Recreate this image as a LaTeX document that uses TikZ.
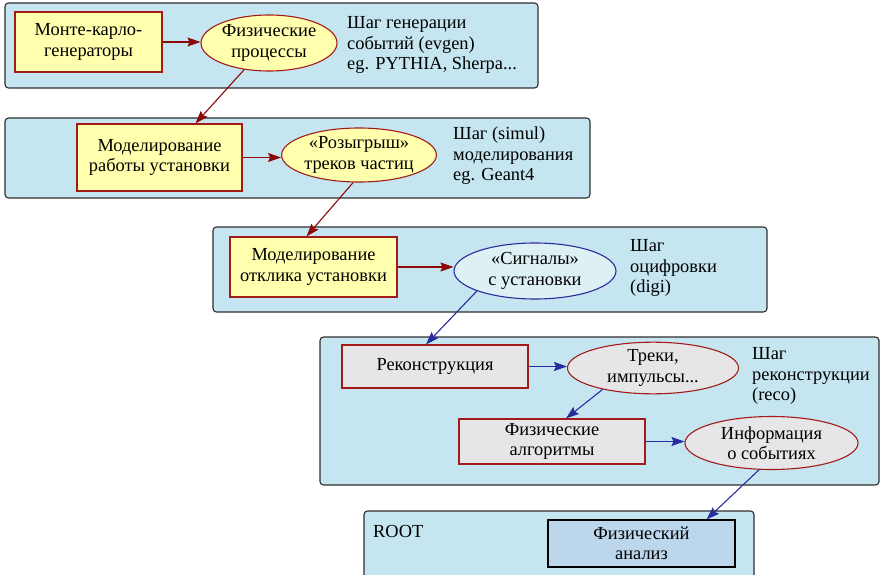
\documentclass[tikz,border=0pt]{standalone}
\usepackage{fontspec}
\setmainfont{Liberation Serif}
\usetikzlibrary{shapes.geometric,arrows.meta}
\definecolor{panelfill}{HTML}{C5E6F0}
\definecolor{panelline}{HTML}{2E2E2E}
\definecolor{yfill}{HTML}{FFFFAE}
\definecolor{redline}{HTML}{A31A1A}
\definecolor{redarr}{HTML}{8C0808}
\definecolor{bluearr}{HTML}{2B2BA0}
\definecolor{sigfill}{HTML}{DDF0F4}
\definecolor{grayfill}{HTML}{E6E6E8}
\definecolor{anafill}{HTML}{BCD6EC}
\begin{document}
\begin{tikzpicture}[x=1pt,y=-1pt,
  font=\fontsize{18.4}{20.5}\selectfont,
  panel/.style={draw=panelline, fill=panelfill, rounded corners=3.5pt, line width=1.1pt},
  boxbase/.style={rectangle, line width=1.1pt, align=center, inner sep=0pt},
  ybox/.style={boxbase, draw=redline, fill=yfill},
  gbox/.style={boxbase, draw=redline, fill=grayfill},
  abox/.style={boxbase, draw=black, fill=anafill},
  ellbase/.style={ellipse, line width=1.1pt, align=center, inner sep=0pt},
  yell/.style={ellbase, draw=redline, fill=yfill},
  sell/.style={ellbase, draw=bluearr, fill=sigfill},
  gell/.style={ellbase, draw=redline, fill=grayfill},
  note/.style={anchor=west, align=left, inner sep=0pt},
  tip/.style={-{Stealth[length=13pt,width=9pt,inset=2pt]}},
  rarrow/.style={draw=redarr, line width=1.1pt, tip},
  barrow/.style={draw=bluearr, line width=1.1pt, tip}]
\useasboundingbox (0,0) rectangle (881,575);
\clip (0,0) rectangle (881,575);

% step panels
\draw[panel] (5,3) rectangle (538,88);
\draw[panel] (5,118) rectangle (590,198);
\draw[panel] (213,227) rectangle (767,312);
\draw[panel] (320,337) rectangle (879,485);
\draw[panel] (364,511) rectangle (754,595);

% event generation
\node[ybox, minimum width=147pt, minimum height=60pt] (mc) at (88.5,42) {Монте-карло-\\генераторы};
\node[yell, minimum width=136pt, minimum height=56pt] (phys) at (269,43) {Физические\\процессы};
\node[note] (evgen) at (347,45) {Шаг генерации\\событий (evgen)\\eg. PYTHIA, Sherpa...};

% simulation
\node[ybox, minimum width=165pt, minimum height=67pt] (det) at (159.5,157.5) {Моделирование\\работы установки};
\node[yell, minimum width=154pt, minimum height=54pt] (tracks) at (359,155) {«Розыгрыш»\\треков частиц};
\node[note] (simul) at (453,156) {Шаг (simul)\\моделирования\\eg. Geant4};

% digitization
\node[ybox, minimum width=167pt, minimum height=60pt] (resp) at (313.5,267) {Моделирование\\отклика установки};
\node[sell, minimum width=162pt, minimum height=56pt] (sig) at (535,271) {«Сигналы»\\с установки};
\node[note] (digi) at (630,268) {Шаг\\оцифровки\\(digi)};

% reconstruction
\node[gbox, minimum width=186pt, minimum height=43pt] (reco) at (435,366.5) {Реконструкция};
\node[gell, minimum width=171pt, minimum height=47pt] (mom) at (653,368) {Треки,\\импульсы...};
\node[note] (recotxt) at (752,376) {Шаг\\реконструкции\\(reco)};
\node[gbox, minimum width=186pt, minimum height=45pt] (alg) at (552,441.5) {Физические\\алгоритмы};
\node[gell, minimum width=173pt, minimum height=53pt] (info) at (771.5,443) {Информация\\о событиях};

% analysis
\node[note] (root) at (373,531) {ROOT};
\node[abox, minimum width=187pt, minimum height=47pt] (ana) at (641.5,543.5) {Физический\\анализ};

% connectors
\draw[rarrow] (mc.east) -- (mc.east -| phys.west);
\draw[rarrow] (phys.227) -- ([xshift=36pt]det.north);
\draw[rarrow] (det.east) -- (det.east -| tracks.west);
\draw[rarrow] (tracks.258) -- ([xshift=-7pt]resp.north);
\draw[rarrow] (resp.east) -- (resp.east -| sig.west);
\draw[barrow] (sig.199) -- ([xshift=-9pt]reco.north);
\draw[barrow] (reco.east) -- (reco.east -| mom.west);
\draw[barrow] (mom.203) -- ([xshift=14pt]alg.north);
\draw[barrow] (alg.east) -- (alg.east -| info.west);
\draw[barrow] (info.245) -- ([xshift=65pt]ana.north);
\end{tikzpicture}
\end{document}
